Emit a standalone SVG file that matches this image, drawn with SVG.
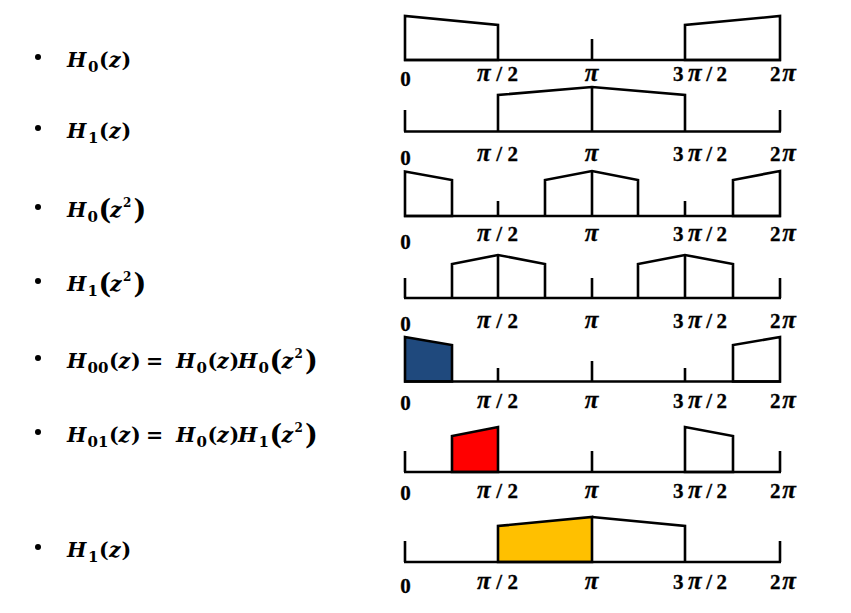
<svg xmlns="http://www.w3.org/2000/svg" width="851" height="613" viewBox="0 0 851 613">
<style>
.bg{fill:#ffffff}
.ln{fill:none;stroke:#000;stroke-width:2.6;stroke-linejoin:miter;stroke-linecap:butt}
.bx{fill:#ffffff;stroke:#000;stroke-width:2.6;stroke-linejoin:miter}
.blue{fill:#1F497D;stroke:#000;stroke-width:2.6}
.red{fill:#FF0000;stroke:#000;stroke-width:2.6}
.yel{fill:#FFC000;stroke:#000;stroke-width:2.6}
.ax{font-family:"Liberation Serif",serif;font-weight:bold;font-size:21px;fill:#000;stroke:#000;stroke-width:0.3}
.pi{font-style:italic;font-size:25px}
.zero{font-family:"Liberation Serif",serif;font-weight:bold;font-size:21px;fill:#000;stroke:#000;stroke-width:0.3}
.eq{font-family:"DejaVu Serif",serif;font-weight:bold;font-size:20.5px;fill:#000}
.it{font-style:italic}
.sub{font-size:15px}
.sup{font-size:12px}
.big{font-size:27px}
.bul{fill:#000}
</style>
<rect class="bg" x="0" y="0" width="851" height="613"/>

<!-- Left labels -->
<g id="label-H0">
<circle class="bul" cx="38" cy="57" r="3"/>
<text class="eq" y="67"><tspan class="it" x="67">H</tspan><tspan class="sub" x="88" y="72">0</tspan><tspan x="99" y="67">(</tspan><tspan class="it" x="109">z</tspan><tspan x="121.5">)</tspan></text>
</g>
<g id="label-H1">
<circle class="bul" cx="38" cy="128" r="3"/>
<text class="eq" y="138"><tspan class="it" x="67">H</tspan><tspan class="sub" x="88" y="143">1</tspan><tspan x="99" y="138">(</tspan><tspan class="it" x="109">z</tspan><tspan x="121.5">)</tspan></text>
</g>
<g id="label-H0z2">
<circle class="bul" cx="38" cy="207" r="3"/>
<text class="eq" y="217"><tspan class="it" x="67">H</tspan><tspan class="sub" x="87.5" y="222">0</tspan><tspan class="big" x="98.5" y="219">(</tspan><tspan class="it" x="110" y="217">z</tspan><tspan class="sup" x="123" y="207">2</tspan><tspan class="big" x="133.5" y="219">)</tspan></text>
</g>
<g id="label-H1z2">
<circle class="bul" cx="38" cy="281" r="3"/>
<text class="eq" y="291"><tspan class="it" x="67">H</tspan><tspan class="sub" x="87.5" y="296">1</tspan><tspan class="big" x="98.5" y="293">(</tspan><tspan class="it" x="110" y="291">z</tspan><tspan class="sup" x="123" y="281">2</tspan><tspan class="big" x="133.5" y="293">)</tspan></text>
</g>
<g id="label-H00">
<circle class="bul" cx="38" cy="358" r="3"/>
<text class="eq" y="368"><tspan class="it" x="67">H</tspan><tspan class="sub" x="87.5" y="373">00</tspan><tspan x="109" y="368">(</tspan><tspan class="it" x="118.5">z</tspan><tspan x="131">)</tspan><tspan x="146">=</tspan><tspan class="it" x="176">H</tspan><tspan class="sub" x="196.5" y="373">0</tspan><tspan x="207.5" y="368">(</tspan><tspan class="it" x="217">z</tspan><tspan x="229.5">)</tspan><tspan class="it" x="238">H</tspan><tspan class="sub" x="258.5" y="373">0</tspan><tspan class="big" x="269.5" y="370">(</tspan><tspan class="it" x="281.5" y="368">z</tspan><tspan class="sup" x="294.5" y="358">2</tspan><tspan class="big" x="305" y="370">)</tspan></text>
</g>
<g id="label-H01">
<circle class="bul" cx="38" cy="432" r="3"/>
<text class="eq" y="442"><tspan class="it" x="67">H</tspan><tspan class="sub" x="87.5" y="447">01</tspan><tspan x="109" y="442">(</tspan><tspan class="it" x="118.5">z</tspan><tspan x="131">)</tspan><tspan x="146">=</tspan><tspan class="it" x="176">H</tspan><tspan class="sub" x="196.5" y="447">0</tspan><tspan x="207.5" y="442">(</tspan><tspan class="it" x="217">z</tspan><tspan x="229.5">)</tspan><tspan class="it" x="238">H</tspan><tspan class="sub" x="258.5" y="447">1</tspan><tspan class="big" x="269.5" y="444">(</tspan><tspan class="it" x="281.5" y="442">z</tspan><tspan class="sup" x="294.5" y="432">2</tspan><tspan class="big" x="305" y="444">)</tspan></text>
</g>
<g id="label-H1-again">
<circle class="bul" cx="38" cy="547" r="3"/>
<text class="eq" y="557"><tspan class="it" x="67">H</tspan><tspan class="sub" x="88" y="562">1</tspan><tspan x="99" y="557">(</tspan><tspan class="it" x="109">z</tspan><tspan x="121.5">)</tspan></text>
</g>

<!-- Row 1: H0(z) -->
<g id="plot-H0">
<polygon class="bx" points="405,60 405,16 498,25 498,60"/>
<polygon class="bx" points="685,60 685,25 780,16 780,60"/>
<line class="ln" x1="592" y1="39" x2="592" y2="60"/>
<line class="ln" x1="404" y1="60" x2="781" y2="60"/>
<text class="zero" x="405.5" y="86" text-anchor="middle">0</text>
<text class="ax" x="477" y="81" textLength="41" lengthAdjust="spacing"><tspan class="pi">π</tspan>/2</text>
<text class="ax" x="591.5" y="81" text-anchor="middle"><tspan class="pi">π</tspan></text>
<text class="ax" x="673" y="81" textLength="54" lengthAdjust="spacing">3<tspan class="pi">π</tspan>/2</text>
<text class="ax" x="770" y="81" textLength="26" lengthAdjust="spacing">2<tspan class="pi">π</tspan></text>
</g>

<!-- Row 2: H1(z) -->
<g id="plot-H1">
<polyline class="bx" points="498,131.5 498,95 592,87 685,95 685,131.5"/>
<line class="ln" x1="592" y1="87" x2="592" y2="131.5"/>
<line class="ln" x1="405" y1="110" x2="405" y2="131.5"/>
<line class="ln" x1="780" y1="110" x2="780" y2="131.5"/>
<line class="ln" x1="404" y1="131.5" x2="781" y2="131.5"/>
<text class="zero" x="405.5" y="165" text-anchor="middle">0</text>
<text class="ax" x="477" y="161" textLength="41" lengthAdjust="spacing"><tspan class="pi">π</tspan>/2</text>
<text class="ax" x="591.5" y="161" text-anchor="middle"><tspan class="pi">π</tspan></text>
<text class="ax" x="673" y="161" textLength="54" lengthAdjust="spacing">3<tspan class="pi">π</tspan>/2</text>
<text class="ax" x="770" y="161" textLength="26" lengthAdjust="spacing">2<tspan class="pi">π</tspan></text>
</g>

<!-- Row 3: H0(z^2) -->
<g id="plot-H0z2">
<polygon class="bx" points="405,216 405,171.5 452,180 452,216"/>
<polyline class="bx" points="545,216 545,180 592,171 638,180 638,216"/>
<line class="ln" x1="592" y1="171" x2="592" y2="216"/>
<polygon class="bx" points="733,216 733,180 780,171 780,216"/>
<line class="ln" x1="498" y1="201" x2="498" y2="216"/>
<line class="ln" x1="685" y1="201" x2="685" y2="216"/>
<line class="ln" x1="404" y1="216" x2="781" y2="216"/>
<text class="zero" x="405.5" y="249" text-anchor="middle">0</text>
<text class="ax" x="477" y="241" textLength="41" lengthAdjust="spacing"><tspan class="pi">π</tspan>/2</text>
<text class="ax" x="591.5" y="241" text-anchor="middle"><tspan class="pi">π</tspan></text>
<text class="ax" x="673" y="241" textLength="54" lengthAdjust="spacing">3<tspan class="pi">π</tspan>/2</text>
<text class="ax" x="770" y="241" textLength="26" lengthAdjust="spacing">2<tspan class="pi">π</tspan></text>
</g>

<!-- Row 4: H1(z^2) -->
<g id="plot-H1z2">
<polyline class="bx" points="452,298 452,264 498,255 545,264 545,298"/>
<line class="ln" x1="498" y1="255" x2="498" y2="298"/>
<polyline class="bx" points="638,298 638,264 685,255 733,264 733,298"/>
<line class="ln" x1="685" y1="255" x2="685" y2="298"/>
<line class="ln" x1="405" y1="278" x2="405" y2="298"/>
<line class="ln" x1="592" y1="278" x2="592" y2="298"/>
<line class="ln" x1="780" y1="278" x2="780" y2="298"/>
<line class="ln" x1="404" y1="298" x2="781" y2="298"/>
<text class="zero" x="405.5" y="331" text-anchor="middle">0</text>
<text class="ax" x="477" y="328" textLength="41" lengthAdjust="spacing"><tspan class="pi">π</tspan>/2</text>
<text class="ax" x="591.5" y="328" text-anchor="middle"><tspan class="pi">π</tspan></text>
<text class="ax" x="673" y="328" textLength="54" lengthAdjust="spacing">3<tspan class="pi">π</tspan>/2</text>
<text class="ax" x="770" y="328" textLength="26" lengthAdjust="spacing">2<tspan class="pi">π</tspan></text>
</g>

<!-- Row 5: H00 -->
<g id="plot-H00">
<polygon class="blue" points="405,381.5 405,337 452,345 452,381.5"/>
<polygon class="bx" points="733,381.5 733,345 780,337 780,381.5"/>
<line class="ln" x1="498" y1="368" x2="498" y2="381.5"/>
<line class="ln" x1="592" y1="361" x2="592" y2="381.5"/>
<line class="ln" x1="685" y1="368" x2="685" y2="381.5"/>
<line class="ln" x1="404" y1="381.5" x2="781" y2="381.5"/>
<text class="zero" x="405.5" y="410" text-anchor="middle">0</text>
<text class="ax" x="477" y="408" textLength="41" lengthAdjust="spacing"><tspan class="pi">π</tspan>/2</text>
<text class="ax" x="591.5" y="408" text-anchor="middle"><tspan class="pi">π</tspan></text>
<text class="ax" x="673" y="408" textLength="54" lengthAdjust="spacing">3<tspan class="pi">π</tspan>/2</text>
<text class="ax" x="770" y="408" textLength="26" lengthAdjust="spacing">2<tspan class="pi">π</tspan></text>
</g>

<!-- Row 6: H01 -->
<g id="plot-H01">
<polygon class="red" points="452,472 452,436 498,427 498,472"/>
<polygon class="bx" points="685,472 685,427 733,436 733,472"/>
<line class="ln" x1="405" y1="451" x2="405" y2="472"/>
<line class="ln" x1="592" y1="451" x2="592" y2="472"/>
<line class="ln" x1="780" y1="451" x2="780" y2="472"/>
<line class="ln" x1="404" y1="472" x2="781" y2="472"/>
<text class="zero" x="405.5" y="500" text-anchor="middle">0</text>
<text class="ax" x="477" y="498" textLength="41" lengthAdjust="spacing"><tspan class="pi">π</tspan>/2</text>
<text class="ax" x="591.5" y="498" text-anchor="middle"><tspan class="pi">π</tspan></text>
<text class="ax" x="673" y="498" textLength="54" lengthAdjust="spacing">3<tspan class="pi">π</tspan>/2</text>
<text class="ax" x="770" y="498" textLength="26" lengthAdjust="spacing">2<tspan class="pi">π</tspan></text>
</g>

<!-- Row 7: H1(z) highlighted -->
<g id="plot-H1-highlight">
<polygon class="yel" points="498,562 498,526 592,517 592,562"/>
<polyline class="bx" points="592,517 685,526 685,562"/>
<line class="ln" x1="405" y1="541" x2="405" y2="562"/>
<line class="ln" x1="780" y1="541" x2="780" y2="562"/>
<line class="ln" x1="404" y1="562" x2="781" y2="562"/>
<text class="zero" x="405.5" y="593" text-anchor="middle">0</text>
<text class="ax" x="477" y="588.5" textLength="41" lengthAdjust="spacing"><tspan class="pi">π</tspan>/2</text>
<text class="ax" x="591.5" y="588.5" text-anchor="middle"><tspan class="pi">π</tspan></text>
<text class="ax" x="673" y="588.5" textLength="54" lengthAdjust="spacing">3<tspan class="pi">π</tspan>/2</text>
<text class="ax" x="770" y="588.5" textLength="26" lengthAdjust="spacing">2<tspan class="pi">π</tspan></text>
</g>
</svg>
